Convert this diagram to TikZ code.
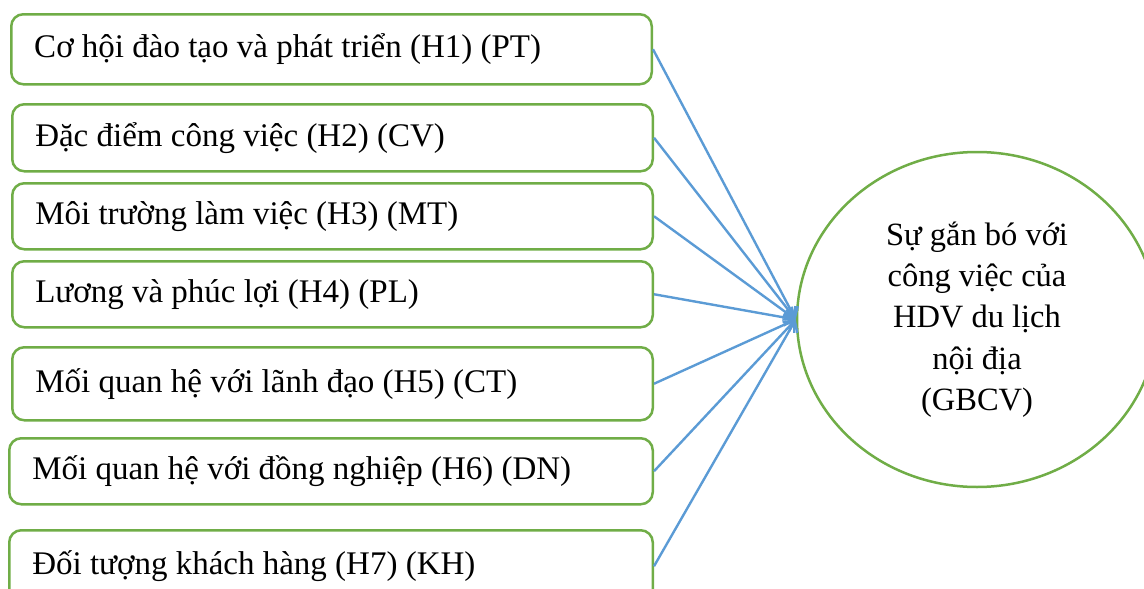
\documentclass[tikz,border=0pt]{standalone}
\usepackage{fontspec}
\setmainfont{Liberation Serif}
\usetikzlibrary{arrows.meta,shapes.geometric}
\definecolor{boxgreen}{HTML}{70AD47}
\definecolor{arrowblue}{HTML}{5B9BD5}
\newcommand\lefttxt[2][594.5pt]{\makebox[#1][l]{#2}}
\tikzset{
  factor/.style={draw=boxgreen, line width=2.5pt, rounded corners=12pt, rectangle,
    minimum height=#1, inner xsep=23pt, inner ysep=0pt,
    font=\fontsize{33}{38}\selectfont, anchor=north west},
  outcome/.style={draw=boxgreen, line width=2.5pt, ellipse, minimum width=360pt,
    minimum height=335pt, inner sep=0pt, align=center, font=\fontsize{32.5}{41.25}\selectfont},
  link/.style={draw=arrowblue, line width=2.4pt, -{Straight Barb[length=9pt,width=16pt]}}
}
\begin{document}
\begin{tikzpicture}[x=1pt,y=-1pt]
\useasboundingbox (0,0) rectangle (1144,589);
\node[factor=70pt] (b1) at (10,13) {\lefttxt{Cơ hội đào tạo và phát triển (H1) (PT)}};
\node[factor=67pt] (b2) at (11,103) {\lefttxt{Đặc điểm công việc (H2) (CV)}};
\node[factor=66pt] (b3) at (11,182) {\lefttxt{Môi trường làm việc (H3) (MT)}};
\node[factor=66pt] (b4) at (11,260) {\lefttxt{Lương và phúc lợi (H4) (PL)}};
\node[factor=73pt] (b5) at (11,346) {\lefttxt{Mối quan hệ với lãnh đạo (H5) (CT)}};
\node[factor=66pt] (b6) at (8,437) {\lefttxt[597.5pt]{Mối quan hệ với đồng nghiệp (H6) (DN)}};
\node[factor=72pt] (b7) at (8,529) {\lefttxt[597.5pt]{Đối tượng khách hàng (H7) (KH)}};
\node[outcome] (g) at (977,319.5) {Sự gắn bó với\\công việc của\\HDV du lịch\\nội địa\\(GBCV)};
\foreach \b in {b1,b2,b3,b4,b5,b6,b7}
  \draw[link] (\b.east) -- (g.west);
\end{tikzpicture}
\end{document}
